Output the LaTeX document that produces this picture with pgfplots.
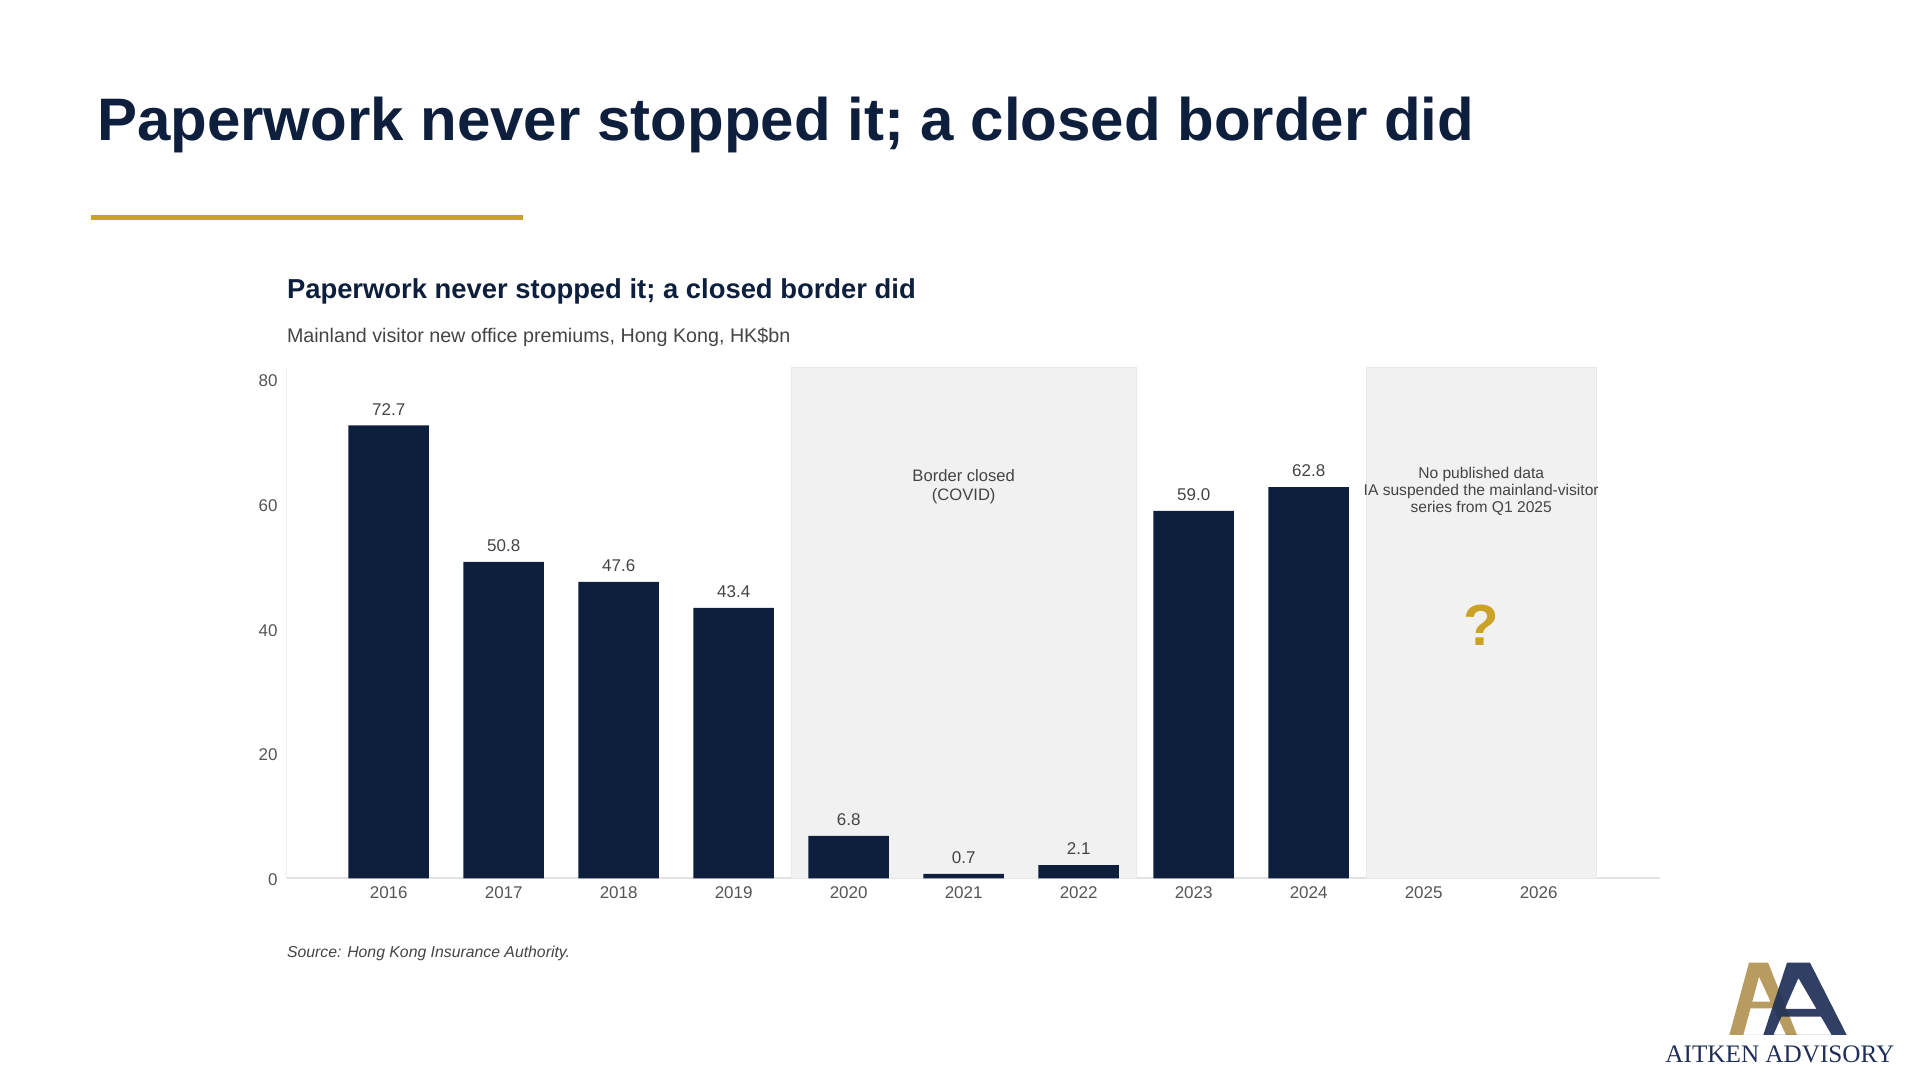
\documentclass[border=0pt]{standalone}
\usepackage{fontspec}
\setmainfont{Liberation Sans}
\newfontfamily\logofont{Liberation Serif}
\usepackage{pgfplots}
\pgfplotsset{compat=1.18}
\definecolor{navy}{HTML}{0D1F3C}
\definecolor{gold}{HTML}{C9A227}
\definecolor{shadebg}{HTML}{F1F1F1}
\definecolor{shadeedge}{HTML}{E8E8E8}
\definecolor{txt}{HTML}{444444}
\definecolor{tickc}{HTML}{555555}
\definecolor{spine}{HTML}{E3E3E3}
\definecolor{logogold}{HTML}{B89B5E}
\definecolor{logonavy}{HTML}{1F2F57}
\begin{document}
\begin{tikzpicture}[x=1pt,y=1pt]
\path[use as bounding box] (0,0) rectangle (960,540);
\node[anchor=base west, inner sep=0, text=navy, font=\fontsize{30}{36}\selectfont\bfseries] at (48.4,469.6) {Paperwork never stopped it; a closed border did};
\draw[gold, line width=2.5pt] (45.3,431) -- (261.4,431);
\node[anchor=base west, inner sep=0, text=navy, font=\fontsize{13.7}{16}\selectfont\bfseries] at (143.3,390.6) {Paperwork never stopped it; a closed border did};
\node[anchor=base west, inner sep=0, text=txt, font=\fontsize{9.85}{12}\selectfont] at (143.3,368.6) {Mainland visitor new office premiums, Hong Kong, HK\$bn};
\begin{axis}[
  at={(143.35pt,100.85pt)}, anchor=south west, scale only axis,
  width=686.65pt, height=255.4pt,
  xmin=-0.887, xmax=11.055, ymin=0, ymax=82,
  axis x line*=bottom, axis y line*=left,
  axis line style={-},
  x axis line style={draw=spine, line width=0.8pt},
  y axis line style={draw=spine!60, line width=0.6pt},
  major tick length=0pt,
  xtick={0,1,2,3,4,5,6,7,8,9,10},
  xticklabels={2016,2017,2018,2019,2020,2021,2022,2023,2024,2025,2026},
  ytick={0,20,40,60,80},
  yticklabels={0,20,40,60,80},
  tick label style={font=\fontsize{8.5}{10}\selectfont, text=tickc},
  xticklabel style={yshift=-0.6pt},
  yticklabel style={xshift=-1pt, yshift=-0.6pt},
  ybar, bar width=0.7,
  clip=false,
  nodes near coords={\pgfmathprintnumber[fixed,fixed zerofill,precision=1,assume math mode=true]{\pgfplotspointmeta}},
  every node near coord/.append style={font=\fontsize{8.5}{10}\selectfont, text=txt, yshift=1.6pt},
]
\fill[shadebg, draw=shadeedge, line width=0.4pt] (axis cs:3.5,0) rectangle (axis cs:6.5,82);
\fill[shadebg, draw=shadeedge, line width=0.4pt] (axis cs:8.5,0) rectangle (axis cs:10.5,82);
\addplot[fill=navy, draw=none] coordinates {
 (0,72.7) (1,50.8) (2,47.6) (3,43.4) (4,6.8) (5,0.7) (6,2.1) (7,59.0) (8,62.8)
};
\node[align=center, font=\fontsize{8.3}{9.7}\selectfont, text=txt] at (axis cs:5,62.9) {Border closed\\(COVID)};
\node[align=center, font=\fontsize{7.8}{8.35}\selectfont, text=txt] at (axis cs:9.5,62.1) {No published data\\IA suspended the mainland-visitor\\series from Q1 2025};
\node[font=\fontsize{29}{30}\selectfont\bfseries, text=gold] at (axis cs:9.5,40.7) {?};
\end{axis}
\node[anchor=base west, inner sep=0, text=txt, font=\fontsize{7.9}{9}\selectfont\itshape] at (143.3,61.35) {Source: Hong Kong Insurance Authority.};
% logo
\fill[logogold, even odd rule] (864.65,22.5) -- (874.5,58.65) -- (884,58.65) -- (898.5,22.5) -- cycle
  (879.5,51.65) -- (876.13,39.15) -- (885.29,39.15) -- cycle
  (875.25,35.85) -- (886.82,35.85) -- (893,22.5) -- (871.65,22.5) -- cycle;
\fill[logonavy, fill opacity=0.92, even odd rule] (881.65,22.5) -- (893.5,58.65) -- (905,58.65) -- (923.35,22.5) -- cycle
  (899.2,51) -- (892.37,35.5) -- (908.26,35.5) -- cycle
  (890.68,31.65) -- (910.5,31.65) -- (915.85,22.5) -- (886.65,22.5) -- cycle;
\node[anchor=base west, inner sep=0, text=logonavy, font=\logofont\fontsize{12.6}{14}\selectfont] at (832.5,8.5) {AITKEN ADVISORY};
\end{tikzpicture}
\end{document}
